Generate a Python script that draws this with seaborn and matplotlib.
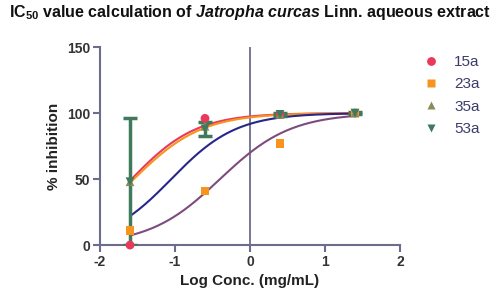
import numpy as np
import pandas as pd
import seaborn as sns
import matplotlib.pyplot as plt

# data
log_conc = [-1.6, -0.6, 0.4, 1.4]
series = ["15a", "23a", "35a", "53a"]
inh_15a = [0, 96, 99, 100]
inh_23a = [11, 41, 77, 100]
inh_35a = [48, 90, 99, 100]
inh_53a = [48, 88, 99, 100]
sd_53a = [48, 5.5, 1, 1]

# fitted dose-response curves (log IC50, hill slope)
curve_names = ["red", "orange", "navy", "purple"]
curve_logic50 = [-1.58, -1.55, -1.05, -0.40]
curve_hill = [1.0, 0.95, 1.0, 0.92]

pt_colors = {"15a": "#e8395a", "23a": "#f7941d", "35a": "#8c8a5a", "53a": "#3f7a5c"}
pt_markers = {"15a": "o", "23a": "s", "35a": "^", "53a": "v"}
curve_colors = ["#e8395a", "#f7941d", "#27278a", "#7d4c7e"]
axis_col = "#6c6c8c"

df = pd.DataFrame({
    "x": log_conc * 4,
    "y": inh_15a + inh_23a + inh_35a + inh_53a,
    "series": [s for s in series for _ in log_conc],
})

xs = np.linspace(log_conc[0], log_conc[-1], 200)
curves = pd.concat([
    pd.DataFrame({"x": xs,
                  "y": 100 / (1 + 10 ** ((c - xs) * h)),
                  "curve": n})
    for n, c, h in zip(curve_names, curve_logic50, curve_hill)
])

sns.set_style("white")
plt.rcParams["font.family"] = ["Liberation Sans", "DejaVu Sans"]
plt.rcParams["axes.unicode_minus"] = False
plt.rcParams["mathtext.fontset"] = "custom"
plt.rcParams["mathtext.rm"] = "Liberation Sans:bold"
plt.rcParams["mathtext.it"] = "Liberation Sans:italic:bold"
plt.rcParams["mathtext.bf"] = "Liberation Sans:bold"

fig = plt.figure(figsize=(5, 2.96), dpi=100)
ax = fig.add_axes([0.2, 0.172, 0.6, 0.669])

ax.axvline(0, color=axis_col, lw=1.3, zorder=1)

sns.lineplot(data=curves, x="x", y="y", hue="curve", palette=curve_colors,
             lw=1.5, legend=False, ax=ax, zorder=2)

ax.errorbar(log_conc, inh_53a, yerr=sd_53a, fmt="none", ecolor=pt_colors["53a"],
            elinewidth=2.5, capsize=5, capthick=2.5, zorder=3)

sns.scatterplot(data=df, x="x", y="y", hue="series", style="series",
                palette=pt_colors, markers=pt_markers, s=40, edgecolor="none",
                ax=ax, zorder=4, clip_on=False)

ax.set_xlim(-2, 2)
ax.set_ylim(0, 150)
ax.set_xticks([-2, -1, 0, 1, 2])
ax.set_yticks([0, 50, 100, 150])
sns.despine(ax=ax)
for side in ["left", "bottom"]:
    ax.spines[side].set_color(axis_col)
    ax.spines[side].set_linewidth(1.5)
ax.tick_params(direction="out", length=5, width=1.5, color=axis_col,
               labelsize=10, labelcolor="#333333", left=True, bottom=True, pad=2)
for t in ax.get_xticklabels() + ax.get_yticklabels():
    t.set_fontweight("bold")

ax.set_xlabel("Log Conc. (mg/mL)", fontsize=11, fontweight="bold", color="#222222")
ax.set_ylabel("% inhibition", fontsize=11, fontweight="bold", color="#222222")

leg = ax.legend(title=None, frameon=False, loc="upper left", bbox_to_anchor=(1.007, 1.03),
                fontsize=11, labelspacing=0.55, handletextpad=0.5, markerscale=1.0)
for t in leg.get_texts():
    t.set_color("#3c3c6c")

fig.text(0.5, 0.957, r"IC$_{50}$ value calculation of $\mathit{Jatropha\ curcas}$ Linn. aqueous extract",
         ha="center", va="center", fontsize=11.5, fontweight="bold", color="#111111")

fig.savefig("out.png", dpi=100)
